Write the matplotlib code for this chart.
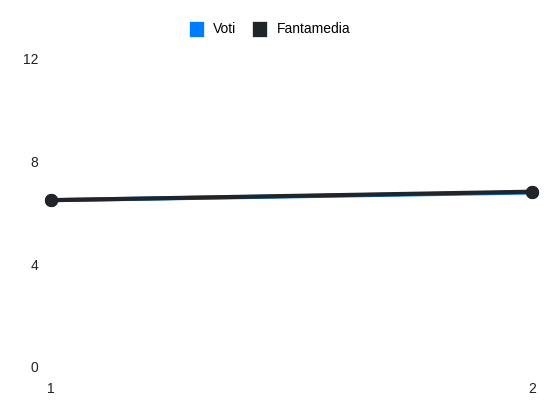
import matplotlib
matplotlib.use("Agg")
import matplotlib.pyplot as plt
from matplotlib.patches import Patch

plt.rcParams['font.family'] = ['Liberation Sans', 'DejaVu Sans']

giornate = [1, 2]
voti = [6.5, 6.8]
fantamedia = [6.5, 6.83]
y_ticks = [0, 4, 8, 12]

blue = '#007bff'
dark = '#212529'

fig = plt.figure(figsize=(5.5, 4.12), dpi=100)
ax = fig.add_axes([51 / 550, 1 - 367 / 412, (532 - 51) / 550, (367 - 59) / 412])

ax.plot(giornate, voti, color=blue, lw=3, marker='o', ms=8.5, mfc=dark, mec=dark,
        zorder=2, clip_on=False)
ax.plot(giornate, fantamedia, color=dark, lw=3, marker='o', ms=8.5, mfc=dark, mec=dark,
        zorder=3, clip_on=False)

ax.set_xlim(1, 2)
ax.set_ylim(0, 12)
ax.set_xticks(giornate)
ax.set_yticks(y_ticks)
for s in ax.spines.values():
    s.set_visible(False)
ax.tick_params(length=0, labelsize=10, colors='#222222')
ax.tick_params(axis='y', pad=9)
ax.tick_params(axis='x', pad=11)
ax.patch.set_alpha(0)

handles = [Patch(facecolor=blue, edgecolor='white', lw=0.5, label='Voti'),
           Patch(facecolor=dark, edgecolor='white', lw=0.5, label='Fantamedia')]
fig.legend(handles=handles, loc='upper center', bbox_to_anchor=(0.49, 0.98), ncol=2,
           frameon=False, fontsize=10, handlelength=1.08, handleheight=1.38,
           handletextpad=0.7, columnspacing=1.1)

fig.savefig('out.png', dpi=100)
